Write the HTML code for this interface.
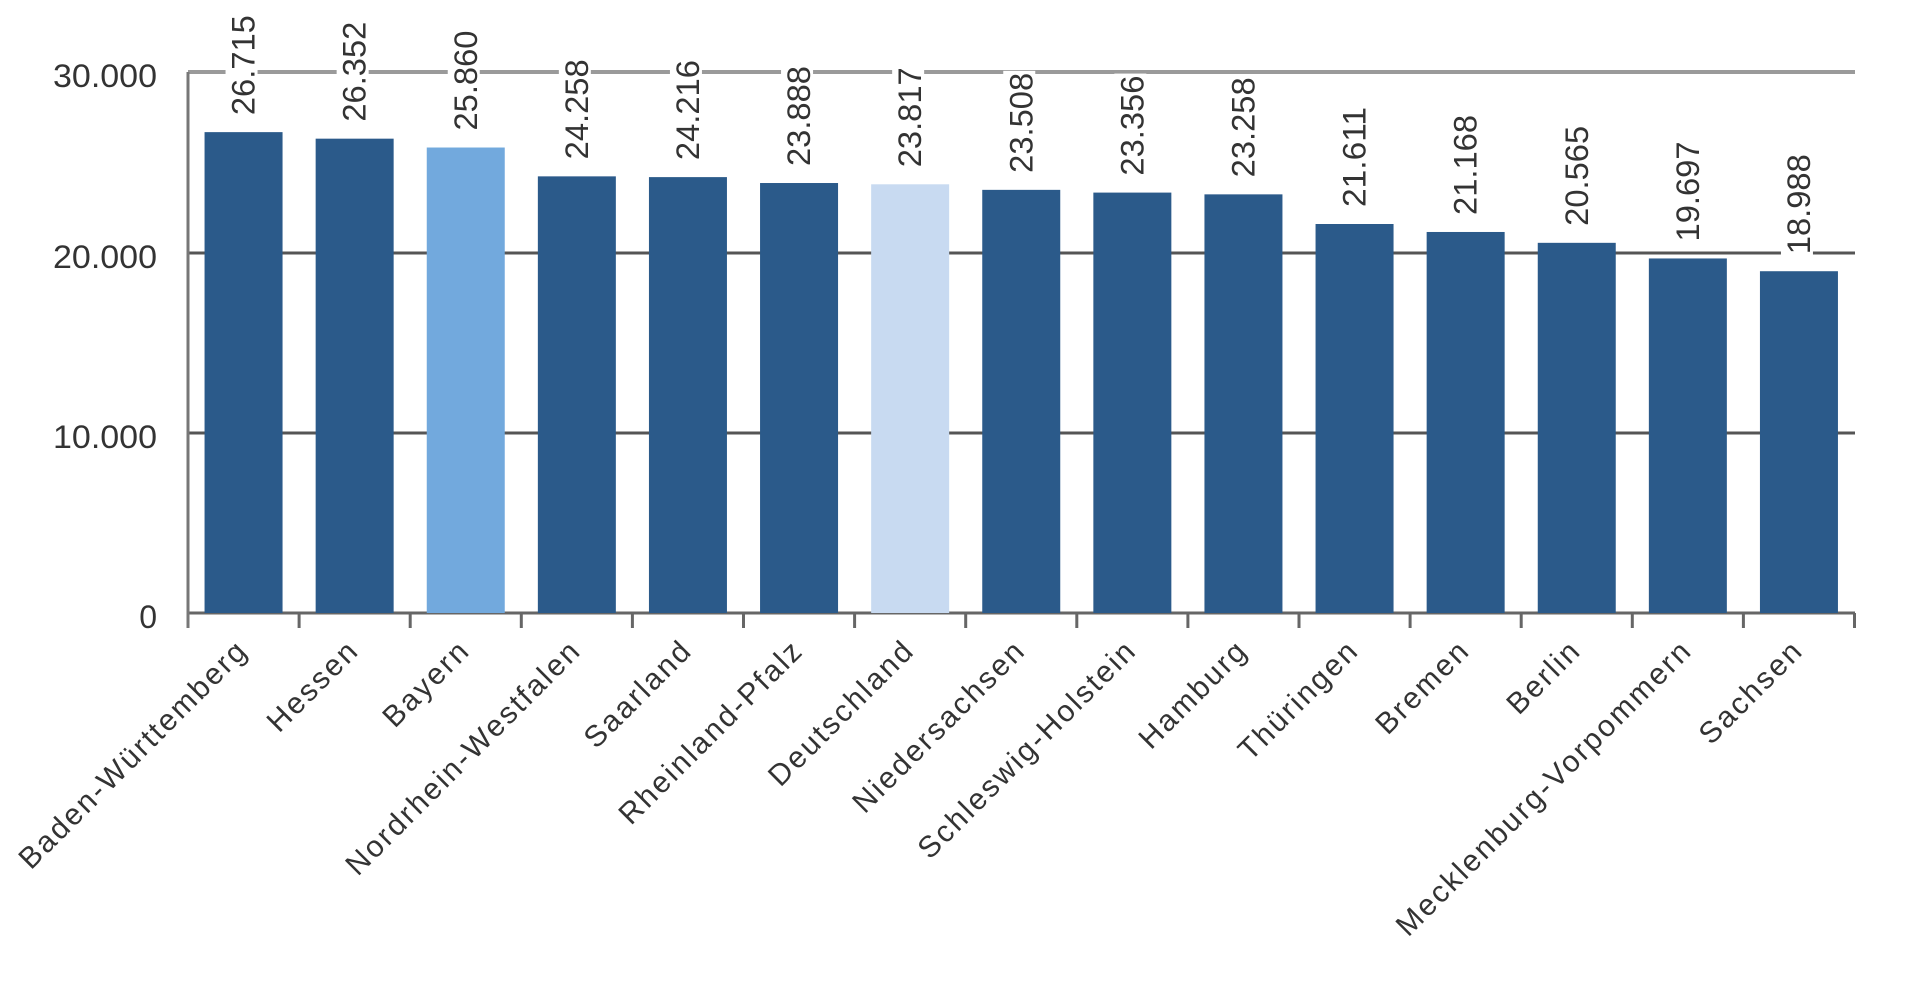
<!DOCTYPE html>
<html><head><meta charset="utf-8"><style>
html,body{margin:0;padding:0;background:#fff;}
svg{display:block;}
text{font-family:"Liberation Sans",sans-serif;}
</style></head><body>
<svg width="1920" height="982" viewBox="0 0 1920 982" xmlns="http://www.w3.org/2000/svg">
<g stroke-width="3">
<line x1="188" y1="72" x2="1855" y2="72" stroke="#9a9a9a" stroke-width="4"/>
<line x1="188" y1="253" x2="1855" y2="253" stroke="#555"/>
<line x1="188" y1="433" x2="1855" y2="433" stroke="#555"/>
<line x1="188" y1="613" x2="1855" y2="613" stroke="#666"/>
<line x1="188" y1="72" x2="188" y2="628" stroke="#777"/>
</g>
<g fill="#333" font-size="32" text-anchor="end">
<text x="157" y="87" textLength="104" lengthAdjust="spacingAndGlyphs">30.000</text>
<text x="157" y="268" textLength="104" lengthAdjust="spacingAndGlyphs">20.000</text>
<text x="157" y="448" textLength="104" lengthAdjust="spacingAndGlyphs">10.000</text>
<text x="157" y="628">0</text>
</g>
<g id="bars"></g>
<script>
const data=[["Baden-Württemberg",26715,"#2b5a8a"],["Hessen",26352,"#2b5a8a"],["Bayern",25860,"#72a9dd"],["Nordrhein-Westfalen",24258,"#2b5a8a"],["Saarland",24216,"#2b5a8a"],["Rheinland-Pfalz",23888,"#2b5a8a"],["Deutschland",23817,"#c8daf1"],["Niedersachsen",23508,"#2b5a8a"],["Schleswig-Holstein",23356,"#2b5a8a"],["Hamburg",23258,"#2b5a8a"],["Thüringen",21611,"#2b5a8a"],["Bremen",21168,"#2b5a8a"],["Berlin",20565,"#2b5a8a"],["Mecklenburg-Vorpommern",19697,"#2b5a8a"],["Sachsen",18988,"#2b5a8a"]];
const ns="http://www.w3.org/2000/svg";const g=document.getElementById("bars");
function el(t,a,txt){const e=document.createElementNS(ns,t);for(const k in a)e.setAttribute(k,a[k]);if(txt)e.textContent=txt;g.appendChild(e);return e;}
const pitch=111.1;
data.forEach((d,i)=>{
 const cx=188+pitch*(i+0.5);const top=613-d[1]*0.018;
 el("rect",{x:cx-39,y:top,width:78,height:613-top,fill:d[2]});
 el("line",{x1:188+pitch*(i+1),y1:613,x2:188+pitch*(i+1),y2:628,stroke:"#666","stroke-width":3});
 const lb=top-17;
 el("rect",{x:cx-18,y:lb-102,width:32,height:104,fill:"#fff"});
 const lbl=d[1].toString().replace(/(\d{2})(\d{3})/,"$1.$2");
 el("text",{x:0,y:0,transform:`translate(${cx+11},${lb}) rotate(-90)`,"font-size":32,fill:"#333",textLength:100,lengthAdjust:"spacingAndGlyphs"},lbl);
 el("text",{x:0,y:0,transform:`translate(${cx+6},${652}) rotate(-45)`,"font-size":30,fill:"#333","text-anchor":"end","letter-spacing":"2.3"},d[0]);
});
</script>
</svg>
</body></html>
